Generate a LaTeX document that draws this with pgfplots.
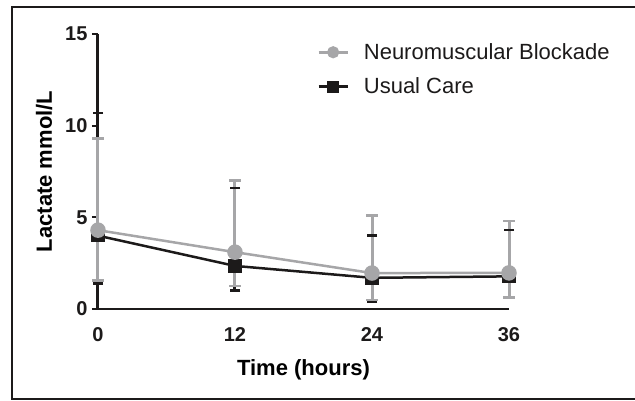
\documentclass[border=0pt]{standalone}
\usepackage{fontspec}
\setmainfont{Liberation Sans}
\usepackage{pgfplots}
\usepackage{pgfplotstable}
\pgfplotsset{compat=1.18}
\definecolor{nbgray}{RGB}{166,166,168}
\definecolor{ucblack}{RGB}{28,26,26}
% mean values
\pgfplotstableread{
x y
0 4.0
12 2.35
24 1.7
36 1.78
}\uc
\pgfplotstableread{
x y
0 4.3
12 3.1
24 1.96
36 1.97
}\nb
% error bar ends (lower, upper)
\pgfplotstableread{
x lo hi
0 1.4 10.7
12 1.0 6.6
24 0.37 4.0
36 0.6 4.3
}\ucerr
\pgfplotstableread{
x lo hi
0 1.55 9.3
12 1.25 7.0
24 0.49 5.1
36 0.62 4.8
}\nberr
\begin{document}
\begin{tikzpicture}
\useasboundingbox (-98pt,-92pt) rectangle (537pt,309pt);
\draw[line width=2pt, ucblack] (545pt,302pt) -- (-86pt,302pt) -- (-86pt,-90pt) -- (545pt,-90pt);
\begin{axis}[
  at={(0pt,0pt)}, anchor=origin,
  scale only axis, width=411pt, height=275pt,
  xmin=0, xmax=36, ymin=0, ymax=15,
  axis lines=left, axis line style={line width=2.5pt, ucblack, -},
  y axis line style={line width=3pt},
  clip=false,
  xtick={0,12,24,36}, ytick={0,5,10,15},
  x tick style={draw=none},
  y tick style={line width=2pt, ucblack},
  tick align=outside, major tick length=6pt,
  ticklabel style={font=\fontsize{20}{20}\selectfont\bfseries, text=ucblack},
  /pgf/number format/assume math mode=true,
  xticklabel style={yshift=-9pt},
  yticklabel style={xshift=-1pt},
  xlabel={\fontsize{22}{22}\selectfont\bfseries Time (hours)},
  ylabel={\fontsize{22}{22}\selectfont\bfseries Lactate mmol/L},
  xlabel style={yshift=-11pt},
  ylabel style={yshift=6pt},
  legend style={draw=none, fill=none, at={(axis cs:19.2,14.6)}, anchor=north west,
    font=\fontsize{22}{22}\selectfont, text=ucblack, row sep=13pt, inner sep=0pt,
    /tikz/every odd column/.append style={column sep=13pt}},
  legend cell align=left,
  reverse legend,
  legend image code/.code={\draw[mark repeat=2,mark phase=2,#1,mark size=4.8pt] plot coordinates {(0pt,0pt) (14.5pt,0pt) (29pt,0pt)};},
  unbounded coords=jump,
]
% Usual Care: error bars, caps, line
\addplot[ucblack, line width=3pt, forget plot] coordinates {
  (0,1.4) (0,10.7) (nan,nan)
  (12,1.0) (12,6.6) (nan,nan)
  (24,0.37) (24,4.0) (nan,nan)
  (36,0.6) (36,4.3)
};
\addplot[ucblack, only marks, mark=-, mark size=5.2pt, mark options={line width=2.5pt}, forget plot]
  table[x=x, y=hi] {\ucerr};
\addplot[ucblack, only marks, mark=-, mark size=5.2pt, mark options={line width=2.5pt}, forget plot]
  table[x=x, y=lo] {\ucerr};
\addplot[ucblack, line width=2.5pt, mark=square*, mark size=5.5pt, mark options={solid}]
  table[x=x, y=y] {\uc};
\addlegendentry{Usual Care}
% Neuromuscular Blockade: error bars, caps, line
\addplot[nbgray, line width=3pt, forget plot] coordinates {
  (0,1.55) (0,9.3) (nan,nan)
  (12,1.25) (12,7.0) (nan,nan)
  (24,0.49) (24,5.1) (nan,nan)
  (36,0.62) (36,4.8)
};
\addplot[nbgray, only marks, mark=-, mark size=5.6pt, mark options={line width=2.5pt}, forget plot]
  table[x=x, y=hi] {\nberr};
\addplot[nbgray, only marks, mark=-, mark size=5.6pt, mark options={line width=2.5pt}, forget plot]
  table[x=x, y=lo] {\nberr};
\addplot[nbgray, line width=2.5pt, mark=*, mark size=6.5pt, mark options={solid}]
  table[x=x, y=y] {\nb};
\addlegendentry{Neuromuscular Blockade}
\end{axis}
\end{tikzpicture}
\end{document}
